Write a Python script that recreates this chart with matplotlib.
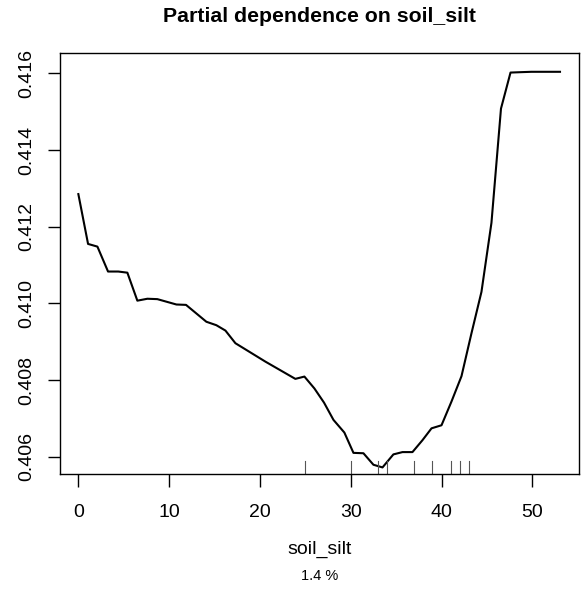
import matplotlib.pyplot as plt
import numpy as np

# partial dependence curve
soil_silt = [0.0, 1.07, 2.1, 3.27, 4.4, 5.4, 6.5, 7.6, 8.7, 10.8, 11.86, 14.1, 15.2, 16.2,
             17.3, 18.4, 19.5, 20.6, 21.7, 22.8, 23.9, 24.9, 26.0, 27.06, 28.1, 29.3, 30.3,
             31.4, 32.5, 33.5, 34.7, 35.7, 36.8, 37.9, 38.9, 40.0, 41.1, 42.2, 43.3, 44.4,
             45.5, 46.55, 47.6, 48.7, 49.9, 51.0, 52.0, 53.05]
pd_value = [0.41285, 0.41155, 0.41148, 0.41083, 0.41083, 0.41080, 0.41007, 0.41012, 0.41011,
            0.40997, 0.40996, 0.40952, 0.40943, 0.40929, 0.40896, 0.40880, 0.40864, 0.40848,
            0.40833, 0.40818, 0.40803, 0.40809, 0.40778, 0.40741, 0.40696, 0.40663, 0.40610,
            0.40609, 0.40579, 0.40572, 0.40606, 0.40612, 0.40612, 0.40643, 0.40674, 0.40682,
            0.40744, 0.40810, 0.40922, 0.41030, 0.41210, 0.41508, 0.41602, 0.41603, 0.41604,
            0.41604, 0.41604, 0.41604]
deciles = [25, 30, 33, 34, 37, 39, 41, 42, 43]

plt.rcParams['font.family'] = ['Liberation Sans', 'DejaVu Sans']
fig = plt.figure(figsize=(5.82, 5.93), dpi=100)
ax = fig.add_axes([0.1031, 0.2007, 0.8917, 0.7099])

ax.plot(soil_silt, pd_value, color='black', lw=1.5)
for d in deciles:
    ax.plot([d, d], [0.405549, 0.405549 + 0.00034], color='#555555', lw=0.8)

ax.set_xlim(-2.02, 55.14)
ax.set_ylim(0.405549, 0.41653)
ax.set_xticks([0, 10, 20, 30, 40, 50])
ax.set_yticks([0.406, 0.408, 0.410, 0.412, 0.414, 0.416])
ax.set_yticklabels(['0.406', '0.408', '0.410', '0.412', '0.414', '0.416'],
                   rotation=90, va='center')
ax.tick_params(direction='out', length=9, width=1, labelsize=14)
ax.tick_params(axis='x', pad=12.5)
ax.tick_params(axis='y', pad=9)
for s in ax.spines.values():
    s.set_linewidth(1)

fig.text(0.5498, 1 - 17 / 593, 'Partial dependence on soil_silt', ha='center', va='center',
         fontsize=15.3, weight='bold')
fig.text(0.5498, 1 - 549 / 593, 'soil_silt', ha='center', va='center', fontsize=14)
fig.text(0.5498, 1 - 576 / 593, '1.4 %', ha='center', va='center', fontsize=10.5)

fig.savefig('out.png', dpi=100)
